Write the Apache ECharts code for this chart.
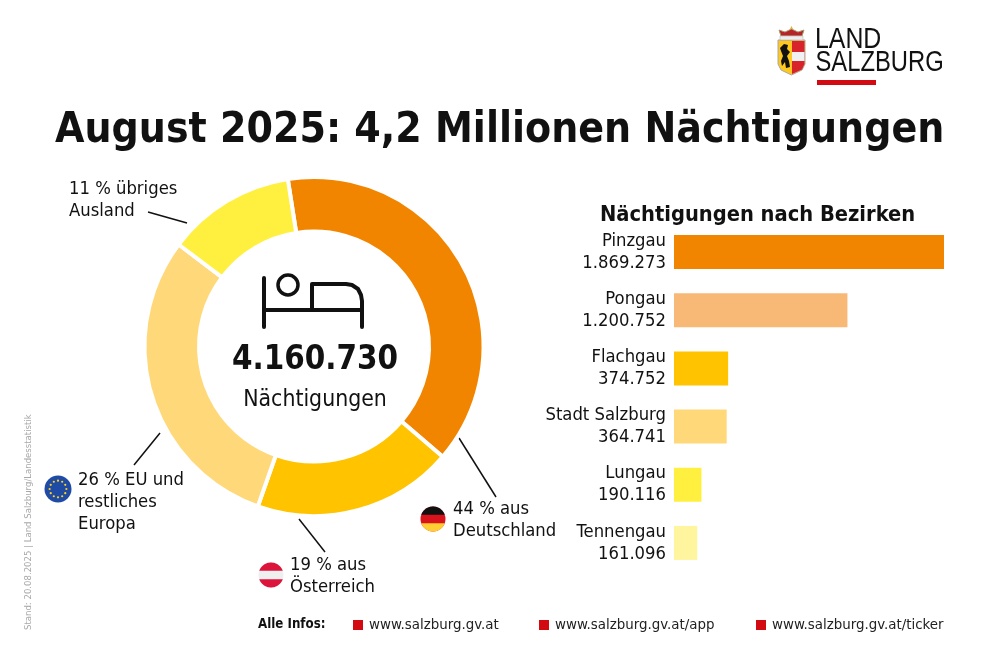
<!DOCTYPE html>
<html><head><meta charset="utf-8">
<style>html,body{margin:0;padding:0;background:#fff}#c{width:1000px;height:667px}</style>
<script src="https://cdn.jsdelivr.net/npm/echarts@6/dist/echarts.min.js"></script>
</head><body><div id="c"></div>
<script>
const originNames = ['Deutschland','Österreich','EU und restliches Europa','übriges Ausland'];
const originDrawnShare = [38.75,19.1,29.9,12.25];
const originColors = ['#F28500','#FFC300','#FFD87A','#FFF040'];
const districts = ['Pinzgau','Pongau','Flachgau','Stadt Salzburg','Lungau','Tennengau'];
const districtValues = [1869273,1200752,374752,364741,190116,161096];
const districtLabels = ['1.869.273','1.200.752','374.752','364.741','190.116','161.096'];
const districtColors = ['#F28500','#F9B976','#FFC300','#FFD87A','#FFF040','#FFF59E'];
const FONT='"DejaVu Sans Condensed","DejaVu Sans"';
const INK='#111';
function txt(x,y,t,size,weight,extra){return {type:'text',x,y,style:Object.assign({text:t,font:(weight||'normal')+' '+size+'px '+FONT,fill:INK,textVerticalAlign:'middle',lineHeight:Math.round(size*1.18)},extra||{})};}
function line(x1,y1,x2,y2){return {type:'line',shape:{x1,y1,x2,y2},style:{stroke:'#111',lineWidth:1.5}};}
function square(x,y){return {type:'rect',shape:{x,y,width:10,height:10},style:{fill:'#D20A11'}};}
function poly(points,style){return {type:'polygon',shape:{points},style};}
function cap(cx,cy,r,s,sign,fill){
  const pts=[],a0=Math.asin(s/r),n=32;
  for(let i=0;i<=n;i++){const t=a0+(Math.PI-2*a0)*i/n;pts.push([cx+r*Math.cos(t),cy+sign*r*Math.sin(t)]);}
  return poly(pts,{fill});
}
function flag3(cx,cy,r,colors){
  const s=r/3;
  return [{type:'circle',shape:{cx,cy,r},style:{fill:colors[1]}},cap(cx,cy,r,s,-1,colors[0]),cap(cx,cy,r,s,1,colors[2])];
}
function euFlag(cx,cy,r){
  const a=[{type:'circle',shape:{cx,cy,r},style:{fill:'#1F4BA5'}}];
  for(let i=0;i<12;i++){const t=i*Math.PI/6;a.push({type:'circle',shape:{cx:cx+r*0.62*Math.cos(t),cy:cy+r*0.62*Math.sin(t),r:1.1},style:{fill:'#FFD21E'}});}
  return a;
}
const logo=[
  poly([[778,40],[805,40],[805,64],[802,70],[791.5,75],[781,70],[778,64]],{fill:'#FFC81E',stroke:'#a8a8a8',lineWidth:1}),
  poly([[792,41],[804.5,41],[804.5,64],[802,69.5],[792,74]],{fill:'#D8232A'}),
  {type:'rect',shape:{x:792,y:52,width:12.5,height:9},style:{fill:'#F1F1F1'}},
  poly([[780,48],[784,44],[788,45],[787,49],[790,52],[787,56],[789,61],[790,67],[786,68],[785,62],[782,66],[781,61],[783,56],[781,51]],{fill:'#111'}),
  poly([[781,36],[779,30],[785,32],[791.5,29],[798,32],[804,30],[802,36]],{fill:'#B8232A',stroke:'#a89a6a',lineWidth:1}),
  poly([[790,29],[791.5,26],[793,29]],{fill:'#E0B030'}),
  {type:'rect',shape:{x:780,y:36,width:23,height:4},style:{fill:'#EDEDED',stroke:'#a8a8a8',lineWidth:0.5}},
  {type:'text',x:815,y:40,scaleX:0.857,style:{text:'LAND',font:'normal 29px "Liberation Sans"',fill:'#111',textVerticalAlign:'middle'}},
  {type:'text',x:815.5,y:63,scaleX:0.82,style:{text:'SALZBURG',font:'normal 29px "Liberation Sans"',fill:'#111',textVerticalAlign:'middle'}},
  {type:'rect',shape:{x:817,y:80,width:59,height:5},style:{fill:'#D20A11'}}
];
const bedStroke={fill:null,stroke:'#111',lineWidth:4,lineCap:'round',lineJoin:'round'};
const bed=[
  {type:'polyline',shape:{points:[[264,278],[264,327]]},style:bedStroke},
  {type:'polyline',shape:{points:[[264,310],[362,310]]},style:bedStroke},
  {type:'polyline',shape:{points:[[312,310],[312,284],[346,284],[352,285],[358,289],[361,295],[362,301],[362,327]]},style:bedStroke},
  {type:'circle',shape:{cx:288,cy:285,r:10},style:{fill:null,stroke:'#111',lineWidth:3.5}}
];
const option={
  animation:false,backgroundColor:'#fff',
  grid:{left:674,top:223,width:270,height:349,containLabel:false},
  xAxis:{type:'value',min:0,max:1869273,show:false},
  yAxis:{type:'category',inverse:true,data:districts,axisLine:{show:false},axisTick:{show:false},
    axisLabel:{margin:8,align:'right',fontFamily:FONT,fontSize:18.3,lineHeight:22,color:INK,padding:[3,0,0,0],
      formatter:(v,i)=>v+'\n'+districtLabels[i]}},
  series:[
    {type:'bar',data:districtValues.map((v,i)=>({value:v,itemStyle:{color:districtColors[i]}})),barWidth:34,silent:true},
    {type:'pie',center:[314,346.5],radius:[115,169.5],startAngle:98.9,clockwise:true,silent:true,label:{show:false},labelLine:{show:false},
      itemStyle:{borderColor:'#fff',borderWidth:4},
      data:originNames.map((n,i)=>({name:n,value:originDrawnShare[i],itemStyle:{color:originColors[i]}}))}
  ],
  graphic:{elements:[
    ...logo,...bed,
    txt(55,131,'August 2025: 4,2 Millionen Nächtigungen',42.3,'bold'),
    txt(315,360,'4.160.730',32.8,'bold',{textAlign:'center'}),
    txt(315,400,'Nächtigungen',22.8,'normal',{textAlign:'center'}),
    txt(600,215,'Nächtigungen nach Bezirken',21.7,'bold'),
    txt(69,200,'11 % übriges\nAusland',18.3),
    line(148,212,187,223),
    line(160,433,134,465),
    txt(78,502,'26 % EU und\nrestliches\nEuropa',18.3),
    ...euFlag(58,489,13.5),
    line(299,519,325,552),
    txt(290,576,'19 % aus\nÖsterreich',18.3),
    ...flag3(271,575,12.5,['#DC143C','#EFEFEF','#DC143C']),
    line(459,438,496,497),
    txt(453,520,'44 % aus\nDeutschland',18.3),
    ...flag3(433,519,12.5,['#111','#D8131B','#FFCE32']),
    txt(258,625,'Alle Infos:',13.2,'bold'),
    square(353,620),txt(369,625,'www.salzburg.gv.at',14.9,'normal',{fill:'#222'}),
    square(539,620),txt(555,625,'www.salzburg.gv.at/app',14.9,'normal',{fill:'#222'}),
    square(756,620),txt(772,625,'www.salzburg.gv.at/ticker',14.9,'normal',{fill:'#222'}),
    {type:'text',x:29,y:630,rotation:Math.PI/2,style:{text:'Stand: 20.08.2025 | Land Salzburg/Landesstatistik',font:'normal 9.5px '+FONT,fill:'#a8a8a8',textVerticalAlign:'middle'}}
  ]}
};
echarts.init(document.getElementById('c')).setOption(option);
</script></body></html>
